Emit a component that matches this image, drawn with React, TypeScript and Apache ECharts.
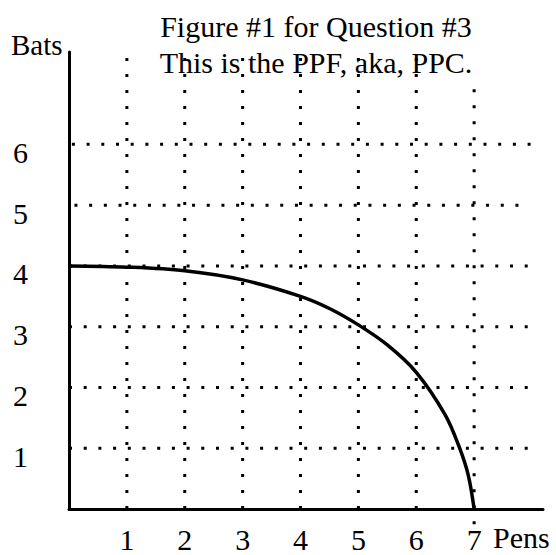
import React, { useEffect, useRef } from "react";
import * as echarts from "echarts";

// ---- data ----
const titleLines = ["Figure #1 for Question #3", "This is the PPF, aka, PPC."];
const xAxisTitle = "Pens";
const yAxisTitle = "Bats";
const xTickLabels = ["1", "2", "3", "4", "5", "6", "7"];
const yTickLabels = ["1", "2", "3", "4", "5", "6"];

// PPF curve: Pens (x) vs Bats (y)
const ppfPens = [0, 1, 2, 3, 4, 4.5, 5, 5.5, 6, 6.5, 6.75, 6.9, 7];
const ppfBats = [4, 3.98, 3.92, 3.77, 3.5, 3.3, 3.03, 2.7, 2.25, 1.55, 1.0, 0.55, 0];

// dotted grid lines: value, start, end (in data units)
const hGridValues = [1, 2, 3, 4, 5, 6];
const hGridStarts = [0, 0, 0, 0, -0.16, 0.05];
const hGridEnds = [8.0, 8.0, 8.0, 8.0, 7.78, 8.0];
const vGridValues = [1, 2, 3, 4, 5, 6, 7];
const vGridStarts = [0, 0, 0, 0, 0, 0, -0.25];
const vGridEnds = [7.5, 7.5, 7.5, 7.5, 7.5, 7.5, 6.96];

const FONT = "Liberation Serif";

export default function App() {
  const ref = useRef<HTMLDivElement>(null);

  useEffect(() => {
    if (!ref.current) return;
    const chart = echarts.init(ref.current, undefined, { renderer: "svg" });

    const gridSeries: any[] = [];
    hGridValues.forEach((v, i) => {
      gridSeries.push({
        type: "line",
        name: "h" + v,
        data: [
          [hGridStarts[i], v],
          [hGridEnds[i], v],
        ],
        symbol: "none",
        clip: false,
        silent: true,
        z: 1,
        lineStyle: { color: "#000", width: 3, type: [3, 11.7], cap: "butt" },
      });
    });
    vGridValues.forEach((v, i) => {
      gridSeries.push({
        type: "line",
        name: "v" + v,
        data: [
          [v, vGridStarts[i]],
          [v, vGridEnds[i]],
        ],
        symbol: "none",
        clip: false,
        silent: true,
        z: 1,
        lineStyle: { color: "#000", width: 3, type: [3, 13], cap: "butt" },
      });
    });

    chart.setOption({
      animation: false,
      backgroundColor: "#fff",
      title: {
        text: titleLines.join("\n"),
        left: 311,
        top: 3,
        textAlign: "center",
        textStyle: {
          fontFamily: FONT,
          fontSize: 30,
          fontWeight: "normal",
          color: "#000",
          lineHeight: 36,
        },
      },
      grid: { left: 69, right: 13, top: 52, bottom: 46, containLabel: false },
      xAxis: {
        type: "value",
        min: 0,
        max: 8.19,
        interval: 1,
        splitLine: { show: false },
        axisTick: { show: false },
        axisLine: { show: true, lineStyle: { color: "#000", width: 3 } },
        axisLabel: {
          show: true,
          margin: 15,
          color: "#000",
          fontFamily: FONT,
          fontSize: 30,
          showMinLabel: false,
          showMaxLabel: false,
          formatter: (v: number) => {
            const idx = Math.round(v) - 1;
            return Number.isInteger(v) && idx >= 0 && idx < xTickLabels.length ? xTickLabels[idx] : "";
          },
        },
      },
      yAxis: {
        type: "value",
        min: 0,
        max: 7.52,
        interval: 1,
        splitLine: { show: false },
        axisTick: { show: false },
        axisLine: { show: true, lineStyle: { color: "#000", width: 3 } },
        axisLabel: {
          show: true,
          margin: 41,
          color: "#000",
          fontFamily: FONT,
          fontSize: 30,
          verticalAlign: "top",
          lineHeight: 16,
          showMinLabel: false,
          showMaxLabel: false,
          formatter: (v: number) => {
            const idx = Math.round(v) - 1;
            return Number.isInteger(v) && idx >= 0 && idx < yTickLabels.length ? yTickLabels[idx] : "";
          },
        },
      },
      graphic: [
        {
          type: "text",
          left: 11,
          top: 30,
          style: { text: yAxisTitle, fontFamily: FONT, fontSize: 29, fill: "#000" },
        },
        {
          type: "text",
          left: 493,
          top: 522,
          style: { text: xAxisTitle, fontFamily: FONT, fontSize: 30, fill: "#000" },
        },
      ],
      series: [
        ...gridSeries,
        {
          type: "line",
          name: "PPF",
          data: ppfPens.map((x, i) => [x, ppfBats[i]]),
          symbol: "none",
          smooth: 0.35,
          clip: false,
          z: 3,
          lineStyle: { color: "#000", width: 3.5 },
        },
      ],
    });

    return () => chart.dispose();
  }, []);

  return (
    <div
      ref={ref}
      style={{ position: "absolute", left: 0, top: 0, width: 556, height: 555, background: "#fff" }}
    />
  );
}
